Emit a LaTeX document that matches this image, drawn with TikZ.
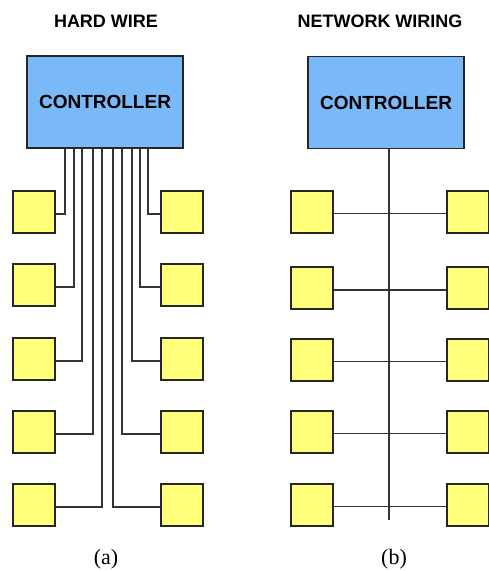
\documentclass[tikz,border=0pt]{standalone}
\usepackage{fontspec}
\setmainfont{Liberation Serif}
\newfontfamily\labelfont{Liberation Sans}
\definecolor{ctrlblue}{RGB}{122,185,247}
\definecolor{devyellow}{RGB}{255,255,122}
\begin{document}
\begin{tikzpicture}[x=1pt, y=-1pt,
    ctrl/.style={draw=black!85, line width=1.8pt, fill=ctrlblue,
        minimum width=156pt, minimum height=92pt,
        font=\labelfont\bfseries\fontsize{19}{19}\selectfont},
    dev/.style={draw=black!85, line width=2pt, fill=devyellow,
        minimum size=42pt, inner sep=0pt},
    wire/.style={black!80, line width=1.6pt},
    title/.style={anchor=base, font=\labelfont\bfseries\fontsize{18}{18}\selectfont},
    caption/.style={anchor=base, font=\fontsize{22}{22}\selectfont}]
    \useasboundingbox (0,0) rectangle (489,571);

    % (a) hard wire
    \node[title] (tA) at (106,27) {HARD WIRE};
    \node[ctrl] (cA) at (105,102) {CONTROLLER};
    \foreach \i/\y/\xl/\xr in {1/212/-40/43, 2/285/-31/35, 3/359/-23/27, 4/432/-12/17, 5/505/-3/8} {
        \node[dev] (la\i) at (33.5,\y) {};
        \node[dev] (ra\i) at (181.5,\y) {};
        \draw[wire] ([xshift=\xl pt]cA.south) |- ([yshift=-2pt]la\i.east);
        \draw[wire] ([xshift=\xr pt]cA.south) |- ([yshift=-2pt]ra\i.west);
    }

    % (b) network wiring
    \node[title] (tB) at (380,27) {NETWORK WIRING};
    \node[ctrl] (cB) at (386,102.5) {CONTROLLER};
    \coordinate (busend) at (389,520);
    \draw[wire] (cB.south -| busend) -- (busend);
    \foreach \i/\y in {1/211.5, 2/288, 3/359.5, 4/431.5, 5/504.5} {
        \node[dev] (lb\i) at (311.5,\y) {};
        \node[dev] (rb\i) at (467.5,\y) {};
        \draw[wire] ([yshift=-2pt]lb\i.east) -- ([yshift=-2pt]rb\i.west);
    }

    \node[caption] (capA) at (106,564) {(a)};
    \node[caption] (capB) at (394,564) {(b)};
\end{tikzpicture}
\end{document}
